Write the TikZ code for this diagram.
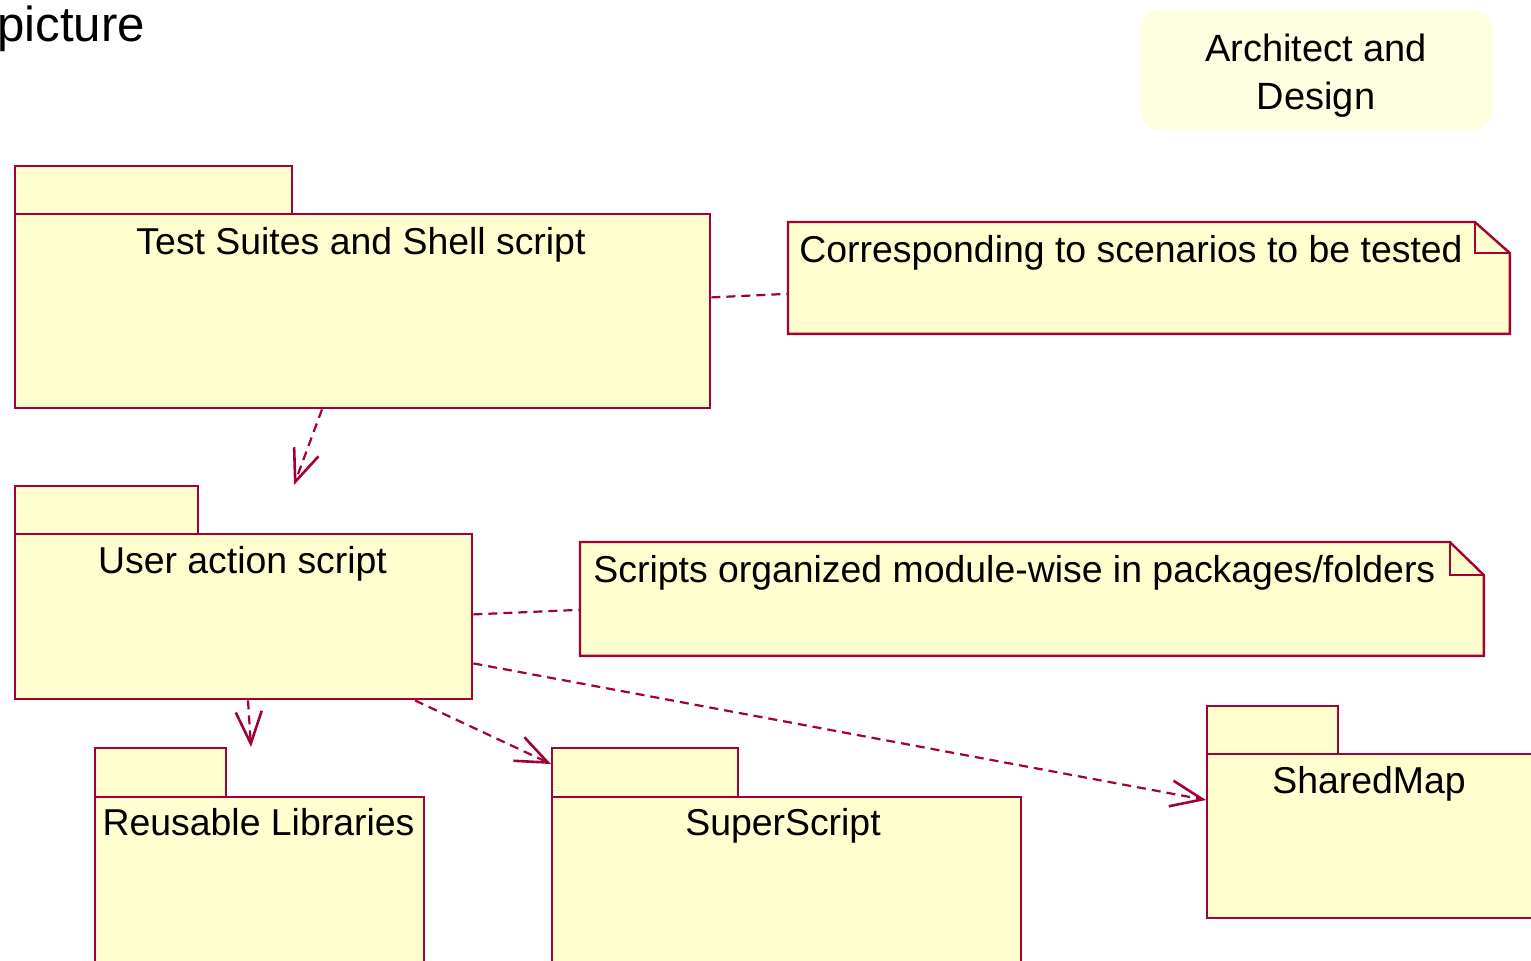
\documentclass[tikz,border=0pt]{standalone}
\usepackage{fontspec}
\setmainfont{Liberation Sans}
\usetikzlibrary{arrows.meta,calc}
\definecolor{umlred}{HTML}{A30034}
\definecolor{umlfill}{HTML}{FEFECE}
\definecolor{archfill}{HTML}{FEFEE0}
\begin{document}
\begin{tikzpicture}[x=0.5pt,y=-0.5pt,
  body/.style={draw=umlred, fill=umlfill, line width=1.2pt, inner sep=0pt, anchor=north west, rectangle},
  notebox/.style={inner sep=0pt, anchor=north west, rectangle},
  noteshape/.style={draw=umlred, fill=umlfill, line width=1.2pt, line join=miter},
  lbl/.style={font=\fontsize{18.7}{22}\selectfont, anchor=base, inner sep=0pt},
  dep/.style={draw=umlred, line width=1.1pt, dash pattern=on 4.5pt off 3pt, -{Straight Barb[length=16pt,width=13pt,line width=1.3pt]}},
  lnk/.style={draw=umlred, line width=1.1pt, dash pattern=on 4.5pt off 3pt}]
\useasboundingbox (0,0) rectangle (1531,960);
\clip (0,0) rectangle (1531,960);

% title text
\node[anchor=base west, inner sep=0pt, font=\fontsize{24.6}{28}\selectfont] (pic) at (-3,41) {picture};

% Architect and Design box
\node[fill=archfill, rounded corners=10pt, minimum width=176pt, minimum height=60.5pt, anchor=north west, inner sep=0pt] (arch) at (1140,9) {};
\node[align=center, inner sep=0pt, font=\fontsize{19}{24}\selectfont] (archtxt) at (1316,76) {Architect and\\Design};

% Package: Test Suites and Shell script
\node[body, minimum width=138.5pt, minimum height=24pt] (tsTab) at (14,165) {};
\node[body, minimum width=347.5pt, minimum height=97pt] (ts) at (14,213) {};
\node[lbl] (tsL) at (361,254) {Test Suites and Shell script};

% Note 1
\node[notebox, minimum width=360.5pt, minimum height=55.5pt] (n1) at (788,222) {};
\draw[noteshape] (n1.north west) -- ($(n1.north east)+(-35,0)$) -- ($(n1.north east)+(0,31)$) -- (n1.south east) -- (n1.south west) -- cycle;
\draw[noteshape, fill=none] ($(n1.north east)+(-35,0)$) |- ($(n1.north east)+(0,31)$);
\node[lbl, anchor=base west] (n1L) at ($(n1.north west)+(11,40)$) {Corresponding to scenarios to be tested};

% Package: User action script
\node[body, minimum width=91.5pt, minimum height=24pt] (uaTab) at (14,485) {};
\node[body, minimum width=228.5pt, minimum height=82.5pt] (ua) at (14,533) {};
\node[lbl] (uaL) at (242.5,573) {User action script};

% Note 2
\node[notebox, minimum width=451.5pt, minimum height=56.5pt] (n2) at (580,542) {};
\draw[noteshape] (n2.north west) -- ($(n2.north east)+(-34,0)$) -- ($(n2.north east)+(0,33)$) -- (n2.south east) -- (n2.south west) -- cycle;
\draw[noteshape, fill=none] ($(n2.north east)+(-34,0)$) |- ($(n2.north east)+(0,33)$);
\node[lbl, anchor=base west] (n2L) at ($(n2.north west)+(13,40)$) {Scripts organized module-wise in packages/folders};

% Package: Reusable Libraries
\node[body, minimum width=65.5pt, minimum height=24.5pt] (rlTab) at (94,747) {};
\node[body, minimum width=164.5pt, minimum height=90pt] (rl) at (94,796) {};
\node[lbl] (rlL) at (258.5,835) {Reusable Libraries};

% Package: SuperScript
\node[body, minimum width=93pt, minimum height=24.5pt] (ssTab) at (551,747) {};
\node[body, minimum width=234.5pt, minimum height=90pt] (ss) at (551,796) {};
\node[lbl] (ssL) at (783,835) {SuperScript};

% Package: SharedMap
\node[body, minimum width=65.5pt, minimum height=24pt] (smTab) at (1206,705) {};
\node[body, minimum width=170pt, minimum height=82pt] (sm) at (1206,753) {};
\node[lbl] (smL) at (1369,793) {SharedMap};

% note links
\draw[lnk] ($(ts.south east)+(0,-112)$) -- ($(n1.south west)+(0,-40)$);
\draw[lnk] ($(ua.south east)+(0,-86)$) -- ($(n2.south west)+(0,-46)$);

% dependencies
\draw[dep] ($(ts.south west)+(308,0)$) -- ($(uaTab.north west)+(280,0)$);
\draw[dep] ($(ua.south west)+(234,0)$) -- ($(rlTab.north west)+(157,0)$);
\draw[dep] ($(ua.south west)+(401,0)$) -- ($(ssTab.north west)+(0,17)$);
\draw[dep] ($(ua.south east)+(0,-37)$) -- ($(sm.north west)+(0,47)$);
\end{tikzpicture}
\end{document}
